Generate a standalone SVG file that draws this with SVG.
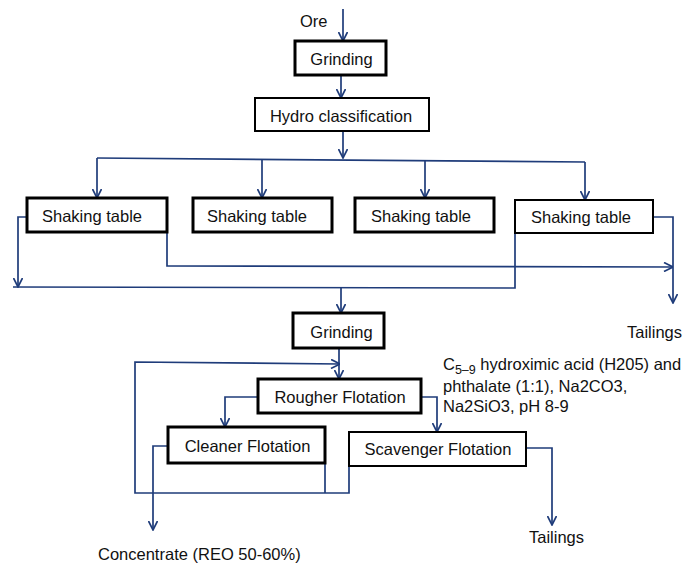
<svg xmlns="http://www.w3.org/2000/svg" width="684" height="564" viewBox="0 0 684 564">
  <style>
    .bg { fill: #ffffff; }
    .box { fill: #ffffff; stroke: #000000; stroke-width: 3; }
    .box.thin { stroke-width: 2; }
    .lbl { font-family: "Liberation Sans", Arial, sans-serif; font-size: 16.5px; fill: #111111; }
    .mid { text-anchor: middle; }
    .conn { fill: none; stroke: #1F3C7A; stroke-width: 1.7; stroke-linejoin: miter; }
  </style>
  <defs>
    <marker id="arr" viewBox="0 0 10 10" refX="9.5" refY="5" markerUnits="userSpaceOnUse" markerWidth="10" markerHeight="10" orient="auto">
      <path d="M0.5,0.5 L9.5,5 L0.5,9.5" fill="none" stroke="#1F3C7A" stroke-width="1.7"/>
    </marker>
  </defs>
  <rect class="bg" x="0" y="0" width="684" height="564"/>

  <g id="connectors">
    <path class="conn" d="M343,9 V41" marker-end="url(#arr)"/>
    <path class="conn" d="M341,75 V98" marker-end="url(#arr)"/>
    <path class="conn" d="M343,131 V158" marker-end="url(#arr)"/>
    <path class="conn" d="M97,158 L585,162"/>
    <path class="conn" d="M97,158 V198" marker-end="url(#arr)"/>
    <path class="conn" d="M262,159.4 V198" marker-end="url(#arr)"/>
    <path class="conn" d="M425,160.7 V198" marker-end="url(#arr)"/>
    <path class="conn" d="M585,162 V200" marker-end="url(#arr)"/>
    <path class="conn" d="M27,217 H18 V287" marker-end="url(#arr)"/>
    <path class="conn" d="M515,218 V288 L13,287"/>
    <path class="conn" d="M341,287.5 V313" marker-end="url(#arr)"/>
    <path class="conn" d="M167,218 V266 L673,267" marker-end="url(#arr)"/>
    <path class="conn" d="M653,217 H673 V303" marker-end="url(#arr)"/>
    <path class="conn" d="M339,348 V379" marker-end="url(#arr)"/>
    <path class="conn" d="M349,466 V493 H135 V362 L340,364" marker-end="url(#arr)"/>
    <path class="conn" d="M325,455 V493"/>
    <path class="conn" d="M258,397 H225 V427" marker-end="url(#arr)"/>
    <path class="conn" d="M421,397 H437 V432" marker-end="url(#arr)"/>
    <path class="conn" d="M168,446 H153 V530" marker-end="url(#arr)"/>
    <path class="conn" d="M526,448 H552 V525" marker-end="url(#arr)"/>
  </g>

  <g id="ore">
    <text class="lbl" x="300" y="27">Ore</text>
  </g>
  <g id="grinding1">
    <rect class="box" x="295" y="41" width="91" height="34"/>
    <text class="lbl mid" x="341.5" y="65">Grinding</text>
  </g>
  <g id="hydro">
    <rect class="box thin" x="255" y="98" width="174" height="33"/>
    <text class="lbl mid" x="341" y="122">Hydro classification</text>
  </g>
  <g id="shaking1">
    <rect class="box" x="27" y="198" width="140" height="34"/>
    <text class="lbl" x="42" y="222">Shaking table</text>
  </g>
  <g id="shaking2">
    <rect class="box" x="193" y="198" width="139" height="34"/>
    <text class="lbl" x="207" y="222">Shaking table</text>
  </g>
  <g id="shaking3">
    <rect class="box" x="355" y="198" width="139" height="34"/>
    <text class="lbl" x="371" y="222">Shaking table</text>
  </g>
  <g id="shaking4">
    <rect class="box thin" x="515" y="200" width="138" height="33"/>
    <text class="lbl" x="531" y="223">Shaking table</text>
  </g>
  <g id="tailings1">
    <text class="lbl" x="627" y="338">Tailings</text>
  </g>
  <g id="grinding2">
    <rect class="box" x="293" y="313" width="91" height="35"/>
    <text class="lbl mid" x="341.5" y="338">Grinding</text>
  </g>
  <g id="reagents">
    <text class="lbl" x="443" y="370">C<tspan font-size="12.5" dy="4">5–9</tspan><tspan dy="-4"> hydroximic acid (H205) and</tspan></text>
    <text class="lbl" x="443" y="392">phthalate (1:1), Na2CO3,</text>
    <text class="lbl" x="443" y="412">Na2SiO3, pH 8-9</text>
  </g>
  <g id="rougher">
    <rect class="box" x="258" y="379" width="163" height="34"/>
    <text class="lbl mid" x="340" y="403">Rougher Flotation</text>
  </g>
  <g id="cleaner">
    <rect class="box" x="168" y="427" width="157" height="36"/>
    <text class="lbl mid" x="247.5" y="452">Cleaner Flotation</text>
  </g>
  <g id="scavenger">
    <rect class="box thin" x="349" y="432" width="177" height="34"/>
    <text class="lbl mid" x="438" y="455">Scavenger Flotation</text>
  </g>
  <g id="tailings2">
    <text class="lbl" x="529" y="543">Tailings</text>
  </g>
  <g id="concentrate">
    <text class="lbl" x="98" y="560">Concentrate (REO 50-60%)</text>
  </g>
</svg>
